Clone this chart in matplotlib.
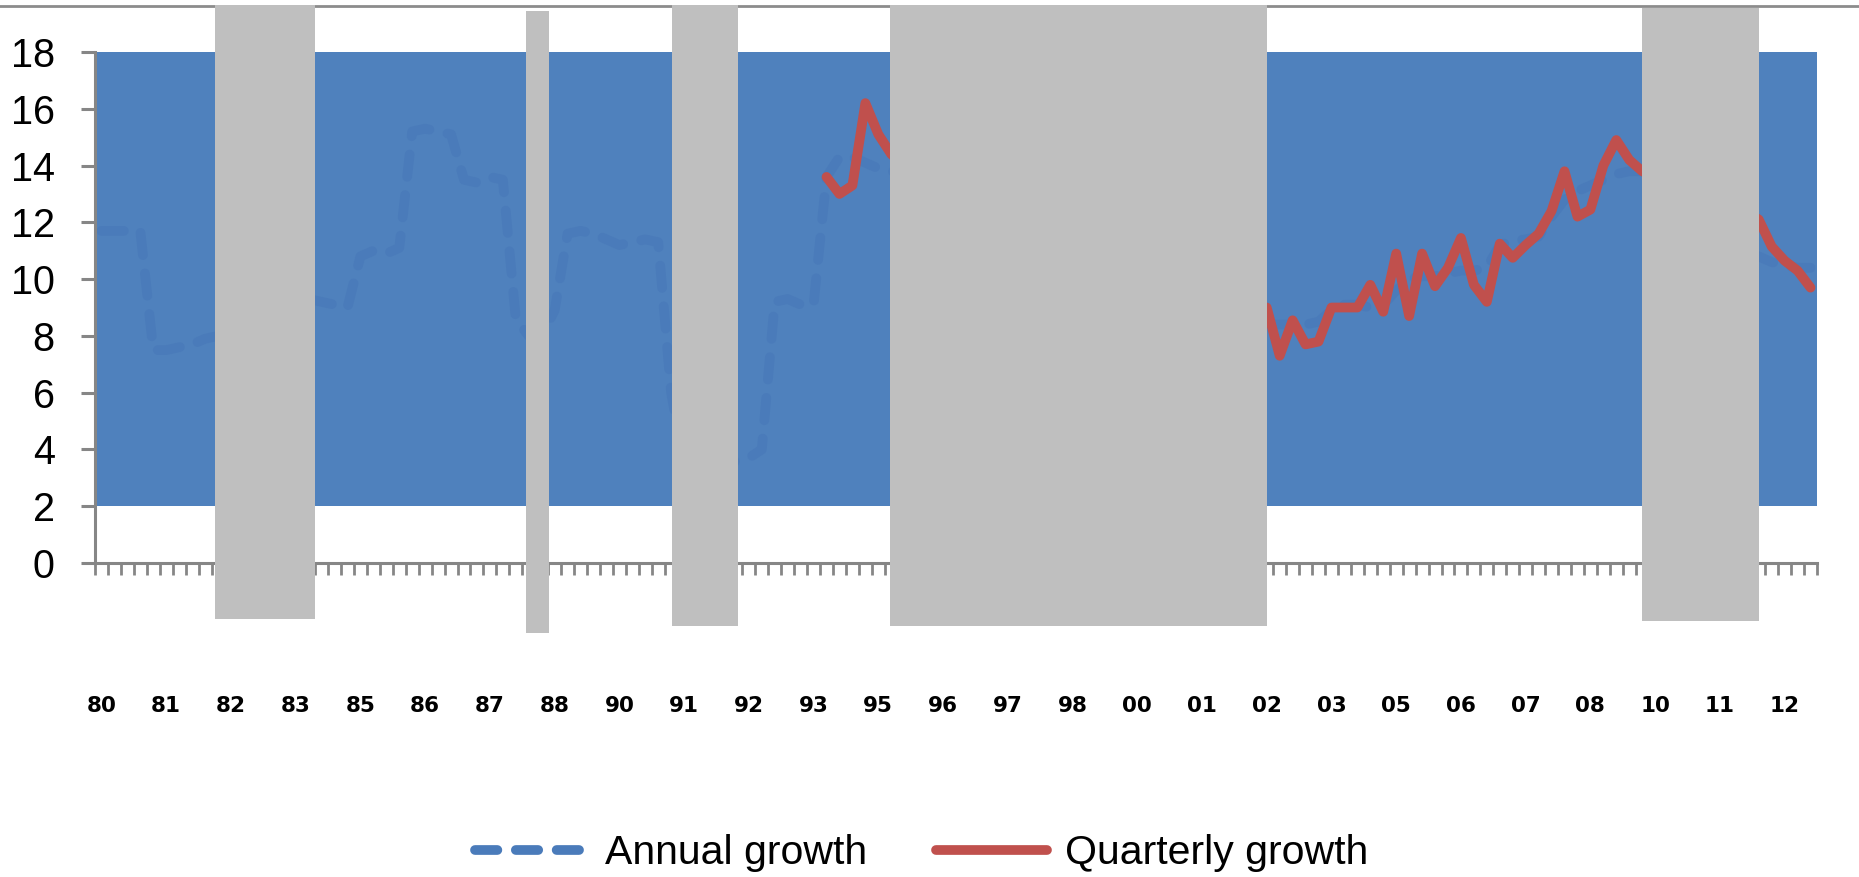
import matplotlib
matplotlib.use("agg")
from matplotlib import pyplot as plt
from matplotlib.lines import Line2D
import numpy as np
import pandas as pd

plt.rcParams['font.family'] = ['Liberation Sans', 'DejaVu Sans']

# quarterly categories, one label every 5 quarters
quarters = pd.period_range("1980Q1", periods=133, freq="Q")
label_step = 5

annual = [11.7, 11.7, 11.7, 11.7, 7.5,
          7.5, 7.6, 7.7, 7.9,
          8.0, 8.3, 8.5, 8.8, 9.0, 9.2, 9.3, 9.3,
          9.2, 9.1, 9.0,
          10.8, 11.0, 10.9, 11.1,
          15.2, 15.3, 15.2, 15.1,
          13.5, 13.4, 13.6, 13.5,
          8.6, 8.0, 8.0,
          8.9, 11.6,
          11.7, 11.6, 11.4, 11.2, 11.3, 11.4, 11.3,
          6.0, 3.5, 2.8, 3.0, 3.3, 3.6,
          3.7, 4.0,
          9.2, 9.3, 9.1, 9.1,
          13.6, 14.3, 14.3, 14.1, 13.9,
          13.8, 13.7, 13.5, 13.2, 12.8, 12.3, 11.7, 11.0, 10.3, 9.7,
          9.2, 8.8, 8.4, 8.1, 7.9, 7.8, 7.8, 7.9, 8.0, 8.1,
          8.2, 8.3, 8.3, 8.4, 8.4, 8.4, 8.4, 8.4, 8.4,
          8.4, 8.4, 8.4, 8.4, 8.5, 8.9, 9.1, 9.1, 9.0, 9.1,
          9.6, 10.0, 10.1, 10.1, 10.2, 10.3, 10.3, 10.4, 11.2, 11.35,
          11.4, 11.5, 12.2, 12.8, 13.1, 13.3, 13.5, 13.7, 13.8, 13.8,
          13.7, 13.4, 13.0, 12.6, 12.2, 11.7, 11.3, 11.0,
          10.8, 10.6, 10.5, 10.4, 10.4]

quarterly = [np.nan] * 56 + [
    13.6, 13.0, 13.3, 16.2, 15.1, 14.4,
    14.0, 13.5, 13.0, 12.2, 11.5, 10.8, 10.0, 9.5, 9.0, 8.5,
    8.2, 8.0, 7.8, 7.5, 7.6, 7.9, 8.2, 8.5, 8.7, 8.9,
    9.0, 9.2, 9.1, 9.0, 8.8, 8.9, 9.0, 9.1,
    9.0, 7.3, 8.55, 7.7, 7.8, 9.0, 9.0, 9.0, 9.8, 8.85,
    10.9, 8.7, 10.9, 9.75, 10.4, 11.45, 9.8, 9.2, 11.25, 10.75,
    11.2, 11.6, 12.4, 13.8, 12.2, 12.45, 14.0, 14.9, 14.2, 13.8,
    13.6, 13.9, 13.4, 13.0, 12.8, 12.9, 12.6, 12.4,
    12.1, 11.15, 10.65, 10.3, 9.7]

band_low, band_high = 2, 18

# grey shaded periods (category units) and their vertical extent (y units)
shade_start = [8.8, 32.8, 44.1, 60.9, 119.0]
shade_end = [16.5, 34.6, 49.2, 90.0, 128.0]
shade_low = [-1.97, -2.47, -2.22, -2.22, -2.04]
shade_high = [19.65, 19.44, 19.65, 19.65, 19.55]

axis_grey = "#868686"
x = np.arange(len(quarters))

fig = plt.figure(figsize=(18.59, 8.77), dpi=100)
fig.add_artist(Line2D([0, 1], [0.9926, 0.9926], transform=fig.transFigure,
                      color="#8c8c8c", lw=2, zorder=-1))
ax = fig.add_axes([0.0511, 0.358, 0.9263, 0.5827])

ax.axhspan(band_low, band_high, color="#4F81BD", lw=0, zorder=1)
ax.plot(x, annual, color="#4A7BBA", lw=7, dashes=(2.3, 1.9),
        dash_capstyle="round", solid_joinstyle="round", zorder=2,
        label="Annual growth")
ax.plot(x, quarterly, color="#C0504D", lw=7, solid_joinstyle="round",
        solid_capstyle="round", zorder=3, label="Quarterly growth")

starts = np.array(shade_start)
ax.bar(starts, np.array(shade_high) - np.array(shade_low),
       width=np.array(shade_end) - starts, bottom=shade_low, align="edge",
       color="#BFBFBF", lw=0, clip_on=False, zorder=5)

ax.set_xlim(-0.5, len(quarters) - 0.5)
ax.set_ylim(0, 18)
ax.set_yticks(range(0, 19, 2))
ax.tick_params(axis="y", labelsize=28.5, length=10, width=2.2,
               color=axis_grey, pad=19)

ax.set_xticks(x[::label_step])
ax.set_xticklabels(["%02d" % (q.year % 100) for q in quarters[::label_step]],
                   fontsize=15.5, fontweight="heavy", family="DejaVu Sans")
ax.set_xticks(np.arange(-0.5, len(quarters)), minor=True)
ax.tick_params(axis="x", which="major", length=0, pad=96)
ax.tick_params(axis="x", which="minor", length=8.6, width=2, color=axis_grey)

for side in ["top", "right"]:
    ax.spines[side].set_visible(False)
for side in ["left", "bottom"]:
    ax.spines[side].set_color(axis_grey)
    ax.spines[side].set_linewidth(2.2)

fig.legend(loc="center", bbox_to_anchor=(0.496, 0.027), ncol=2, frameon=False,
           fontsize=29.5, handlelength=2.7, handletextpad=0.45, columnspacing=1.7)

fig.savefig("out.png", dpi=100)
